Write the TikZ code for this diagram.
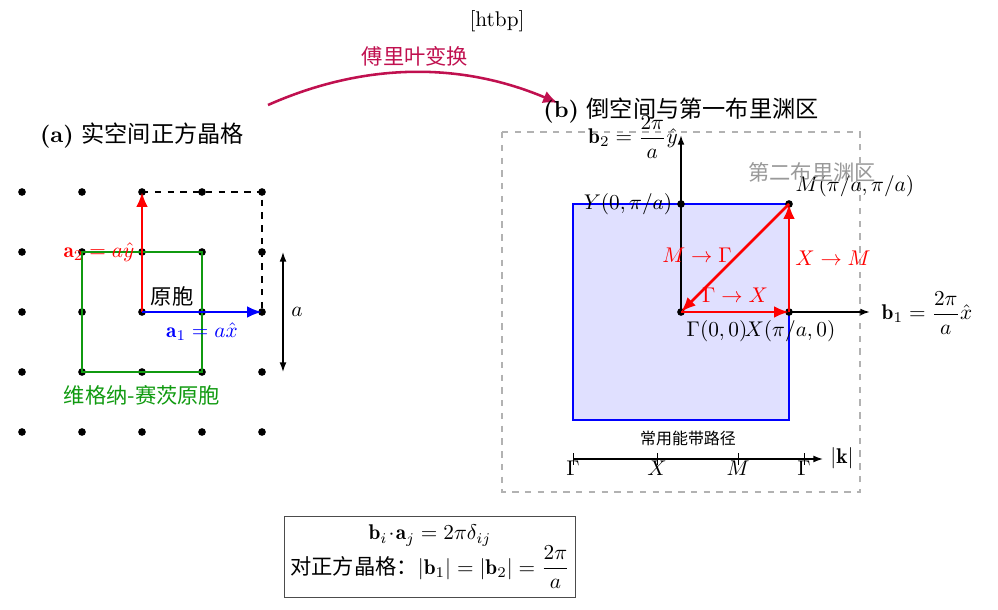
\documentclass[tikz,border=0pt]{standalone}
\usepackage{fontspec}
\usepackage{amsmath}
\newfontfamily\cjk{Noto Sans CJK SC}
\usetikzlibrary{arrows.meta}
\definecolor{fourier}{HTML}{C0104F}
\definecolor{wsgreen}{HTML}{109A10}
\tikzset{
  dot/.style={circle,fill=black,inner sep=0pt,minimum size=3.6pt},
  vec/.style={line width=1.3pt,-{Latex[length=7pt,width=5.5pt]}},
  thinarrow/.style={line width=0.5pt,-{Latex[length=4.5pt,width=3.2pt]}},
  lbl/.style={inner sep=1pt},
  titlefont/.style={font=\fontsize{10.9}{13}\selectfont},
}
\begin{document}
\begin{tikzpicture}[x=0.47pt,y=-0.47pt]
\useasboundingbox (0,0) rectangle (998,610);
% header
\node[lbl] (htbp) at (497,21) {[htbp]};
% ---------------- left: real lattice
\node[lbl,titlefont] (ta) at (142,136) {\textbf{(a)} {\cjk 实空间正方晶格}};
\foreach \i/\x in {0/22,1/82,2/142,3/202,4/262}{
  \foreach \j/\y in {0/192,1/252,2/312,3/372,4/432}{
    \node[dot] (p\i\j) at (\x,\y) {};
  }
}
% green Wigner-Seitz square
\draw[wsgreen,line width=0.9pt] (p11.center) -- (p31.center) -- (p33.center) -- (p13.center) -- cycle;
% dashed cell
\draw[dashed,line width=0.7pt] (p20.center) -- (p40.center) -- (p42.center);
% vectors
\draw[vec,red] (p22.center) -- (p20.center);
\draw[vec,blue] (p22.center) -- (p42.center);
\node[lbl,red] (a2l) at (99,252) {$\mathbf{a}_2 = a\hat{y}$};
\node[lbl,blue] (a1l) at (202,332) {$\mathbf{a}_1 = a\hat{x}$};
\node[lbl] (cell) at (172,296) {\cjk 原胞};
\node[lbl,wsgreen] (wsl) at (142,395) {\cjk 维格纳-赛茨原胞};
% dimension
\coordinate (d1) at (283,252);
\coordinate (d2) at (283,372);
\draw[line width=0.6pt,{Latex[length=4.5pt,width=3.2pt]}-{Latex[length=4.5pt,width=3.2pt]}] (d1) -- (d2);
\node[lbl] (al) at (297,312) {$a$};
% ---------------- Fourier arrow
\coordinate (fs) at (268,105);
\coordinate (fe) at (558,103);
\draw[fourier,line width=1.2pt,-{Latex[length=7pt,width=6pt]}] (fs) .. controls (365,62) and (461,62) .. (fe);
\node[lbl,fourier] (fl) at (415,56) {\cjk 傅里叶变换};
% ---------------- right: reciprocal lattice
\node[lbl,titlefont] (tb) at (681,111) {\textbf{(b)} {\cjk 倒空间与第一布里渊区}};
\coordinate (bz1) at (502,132);
\coordinate (bz2) at (860,492);
\draw[gray!60,dashed,line width=0.6pt] (bz1) rectangle (bz2);
\coordinate (s1) at (573,204);
\coordinate (s2) at (789,420);
\draw[blue,fill=blue!12,line width=0.9pt] (s1) rectangle (s2);
\node[dot] (G) at (681,312) {};
\node[dot] (X) at (789,312) {};
\node[dot] (M) at (789,204) {};
\node[dot] (Y) at (681,204) {};
\coordinate (xax) at (870,312);
\coordinate (yax) at (681,135);
\draw[thinarrow,line width=0.8pt] (G.center) -- (xax);
\draw[thinarrow,line width=0.8pt] (G.center) -- (yax);
\node[lbl] (b1l) at (927,313) {$\mathbf{b}_1 = \dfrac{2\pi}{a}\hat{x}$};
\node[lbl] (b2l) at (633,137) {$\mathbf{b}_2 = \dfrac{2\pi}{a}\hat{y}$};
\node[lbl] (Gl) at (717,331) {$\Gamma(0,0)$};
\node[lbl] (Xl) at (790,331) {$X(\pi/a,0)$};
\node[lbl] (Yl) at (628,204) {$Y(0,\pi/a)$};
\node[lbl] (Ml) at (855,186) {$M(\pi/a,\pi/a)$};
\node[lbl,gray!80] (bz2l) at (812,172) {\cjk 第二布里渊区};
\draw[vec,red] (G.center) -- (X.center);
\draw[vec,red] (X.center) -- (M.center);
\draw[vec,red] (M.center) -- (G.center);
\node[lbl,red] (GXl) at (735,295) {$\Gamma\to X$};
\node[lbl,red] (XMl) at (833,258) {$X\to M$};
\node[lbl,red] (MGl) at (697,255) {$M\to\Gamma$};
% band path
\node[lbl] (bp) at (688,438) {\fontsize{7.5}{9}\selectfont\cjk 常用能带路径};
\coordinate (k0) at (573,459);
\coordinate (k1) at (823,459);
\draw[thinarrow,line width=0.6pt] (k0) -- (k1);
\foreach \n/\x/\t in {t1/573/\Gamma,t2/657/X,t3/738/M,t4/804/\Gamma}{
  \draw[line width=0.4pt] (\x,453) -- (\x,465);
  \node[lbl] (\n) at (\x,468) {$\t$};
}
\node[lbl] (kl) at (842,458) {$|\mathbf{k}|$};
% formula box
\node[draw=black!70,line width=0.6pt,align=center,minimum width=137pt,minimum height=38pt,inner sep=1pt] (box) at (430,557)
  {$\mathbf{b}_i\!\cdot\!\mathbf{a}_j = 2\pi\delta_{ij}$\\[-1pt] {\cjk 对正方晶格：}$|\mathbf{b}_1| = |\mathbf{b}_2| = \dfrac{2\pi}{a}$};
\end{tikzpicture}
\end{document}
